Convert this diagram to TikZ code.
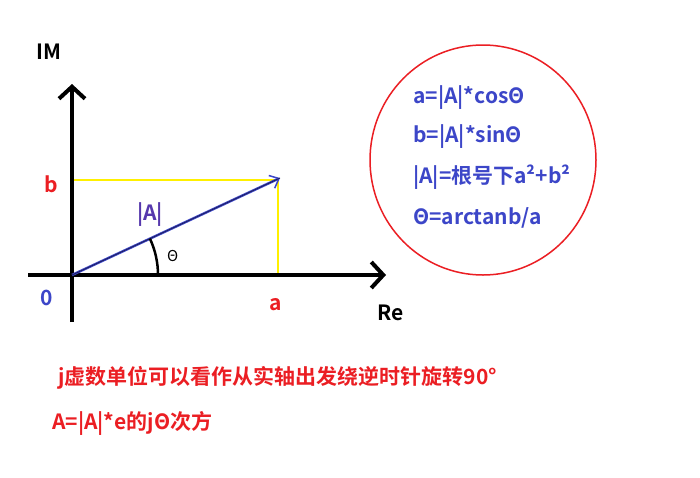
\documentclass[tikz,border=0pt]{standalone}
\usepackage{fontspec}
\setmainfont{Noto Sans CJK SC}[BoldFont={* Bold}]
\usetikzlibrary{arrows.meta}
\definecolor{tblue}{RGB}{60,70,200}
\definecolor{tred}{RGB}{235,30,35}
\definecolor{tyel}{RGB}{255,240,0}
\definecolor{tnavy}{RGB}{30,30,90}
\begin{document}
\begin{tikzpicture}[x=1pt,y=-1pt,
  lbl/.style={font=\bfseries\fontsize{21}{24}\selectfont,inner sep=0pt,anchor=west},
  axis/.style={line width=4.5pt,-{Straight Barb[length=12pt,width=26pt,line width=4pt]}}]
\useasboundingbox (0,0) rectangle (700,477);
\fill[white] (0,0) rectangle (700,477);
\coordinate (o) at (72,275);
\coordinate (yb) at (72,322);
\coordinate (yt) at (72,84);
\coordinate (xl) at (28,275);
\coordinate (xr) at (386,275);
\coordinate (p) at (280,178);
\coordinate (pb) at (72,180);
\coordinate (pa) at (278,275);
\draw[tyel,line width=1.5pt] (pb) -- (278,180) -- (pa);
\draw[axis] (yb) -- (yt);
\draw[axis] (xl) -- (xr);
\draw[tblue,line width=2.5pt,-{Straight Barb[length=8pt,width=14pt,line width=1.5pt]}] (o) -- (p);
\draw[tnavy,line width=0.8pt] (o) -- (p);
\draw[black,line width=2.5pt] ([shift={(-25:86)}]o) arc[start angle=-25,end angle=0,radius=86];
\node[lbl,text=black] (im) at (36,52) {IM};
\node[lbl,text=black] (re) at (377,313) {Re};
\node[lbl,text=tblue] (zero) at (40,298) {0};
\node[lbl,text=tred] (b) at (44,184) {b};
\node[lbl,text=tred] (a) at (269,305) {a};
\node[lbl,text=tblue!80!purple] (A) at (137,215) {|A|};
\node[inner sep=0pt,anchor=west,font=\fontsize{15}{18}\selectfont] (th) at (167,256) {Θ};
\draw[tred,line width=1.5pt] (483,160) ellipse[x radius=113,y radius=115];
\node[lbl,text=tblue] (e1) at (413,98) {a=|A|*cosΘ};
\node[lbl,text=tblue] (e2) at (413,137) {b=|A|*sinΘ};
\node[lbl,text=tblue] (e3) at (413,177) {|A|=根号下a²+b²};
\node[lbl,text=tblue] (e4) at (413,218) {Θ=arctanb/a};
\node[lbl,text=tred] (t1) at (58,378) {j虚数单位可以看作从实轴出发绕逆时针旋转90°};
\node[lbl,text=tred] (t2) at (52,423) {A=|A|*e的jΘ次方};
\end{tikzpicture}
\end{document}
